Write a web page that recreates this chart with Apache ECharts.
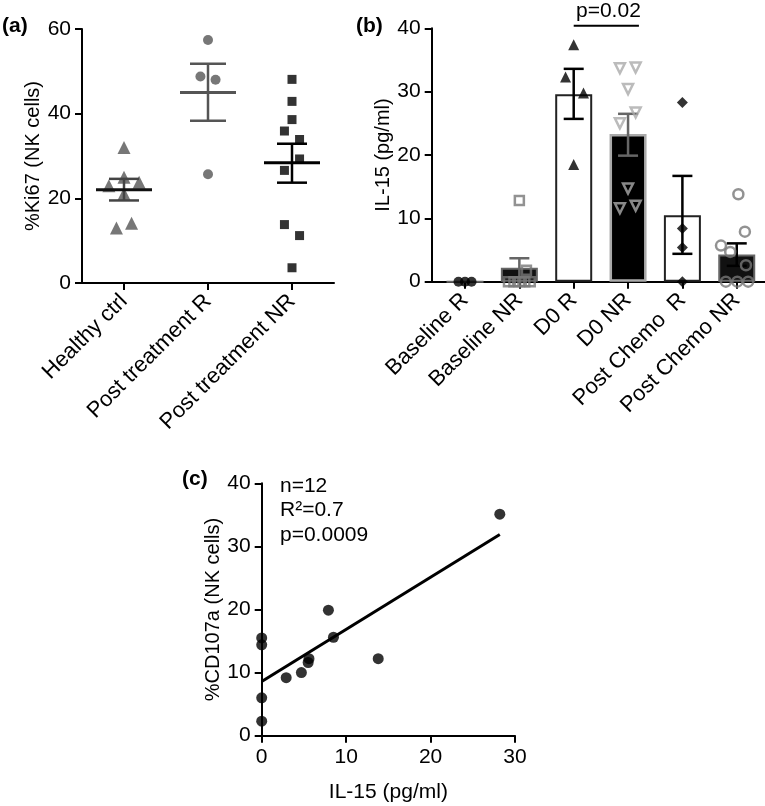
<!DOCTYPE html>
<html>
<head>
<meta charset="utf-8">
<script src="https://cdn.jsdelivr.net/npm/echarts@6/dist/echarts.min.js"></script>
<style>
  html, body { margin: 0; padding: 0; background: #fff; }
  #chart { width: 765px; height: 806px; }
</style>
</head>
<body>
<div id="chart"></div>
<script>
// ---- panel (a): Ki67 ----
const aGroups = ["Healthy ctrl", "Post treatment R", "Post treatment NR"];
const aHealthy = [32.0, 23.0, 25.0, 23.8, 21.1, 13.0, 14.1];
const aHealthyJitter = [0, -0.18, 0, 0.18, 0, -0.09, 0.09];
const aPostR = [57.4, 48.8, 48.0, 25.7];
const aPostRJitter = [0, -0.09, 0.09, 0];
const aPostNR = [48.1, 42.9, 38.6, 35.9, 33.9, 29.3, 26.6, 13.8, 11.2, 3.6];
const aPostNRJitter = [0, 0, 0, -0.09, 0.09, 0.09, -0.09, -0.09, 0.09, 0];
const aMean = [22.0, 45.0, 28.4];
const aLow = [19.5, 38.3, 23.7];
const aHigh = [24.6, 51.8, 32.9];

// ---- panel (b): IL-15 ----
const bGroups = ["Baseline R", "Baseline NR", "D0 R", "D0 NR", "Post Chemo  R", "Post Chemo NR"];
const bMean = [0, 2.2, 29.6, 23.3, 10.5, 4.3];
const bLow = [0, 0.7, 25.7, 19.9, 4.4, 2.5];
const bHigh = [0, 3.7, 33.6, 26.5, 16.7, 6.05];
const bBaseR = [0, 0, 0];
const bBaseRJitter = [-0.12, 0, 0.12];
const bBaseNR = [12.8, 1.8, 0, 0, 0, 0, 0];
const bBaseNRJitter = [0, 0.13, -0.2, -0.1, 0, 0.1, 0.2];
const bD0R = [37.4, 32.3, 29.8, 18.5];
const bD0RJitter = [0, -0.15, 0.18, 0];
const bD0NR = [33.7, 33.8, 30.4, 26.7, 25.0, 14.7, 11.6, 12.0];
const bD0NRJitter = [-0.15, 0.14, 0, 0.14, -0.15, 0, -0.15, 0.14];
const bChemoR = [28.3, 8.4, 5.4, 0];
const bChemoRJitter = [0, 0, 0, 0];
const bChemoNR = [13.8, 7.9, 5.7, 4.7, 2.6, 0, 0, 0];
const bChemoNRJitter = [0.03, 0.15, -0.29, -0.12, 0.17, -0.2, 0.01, 0.21];
const bBracketX = [2, 3.2];
const bBracketY = 40.4;

// ---- panel (c): IL-15 vs CD107a ----
const cX = [0, 0, 0, 0, 2.9, 4.7, 5.6, 5.5, 7.9, 8.5, 13.8, 28.2];
const cY = [15.5, 14.4, 6.0, 2.3, 9.2, 10.0, 12.2, 11.6, 19.9, 15.6, 12.2, 35.1];
const fitX = [0, 28.2];
const fitY = [8.6, 31.9];

const FONT = "Liberation Sans, Arial, sans-serif";

function pts(group, values, jitter) {
  return values.map((v, i) => [group + jitter[i], v]);
}

function catAxis(gridIndex, names, min, max) {
  const ticks = names.map((_, i) => i);
  return {
    gridIndex,
    type: "value",
    min,
    max,
    axisLine: { show: true, onZero: false, lineStyle: { color: "#000", width: 2 } },
    axisTick: { show: true, customValues: ticks, length: 7, lineStyle: { color: "#000", width: 2 } },
    axisLabel: {
      customValues: ticks,
      formatter: (v) => names[Math.round(v)],
      rotate: 45,
      fontSize: 22,
      fontFamily: FONT,
      color: "#000",
      margin: 15,
    },
    splitLine: { show: false },
  };
}

function valAxis(gridIndex, min, max, interval, name, nameGap) {
  return {
    gridIndex,
    type: "value",
    min,
    max,
    interval,
    name,
    nameLocation: "middle",
    nameGap,
    nameTextStyle: { fontSize: 20, fontFamily: FONT, color: "#000" },
    axisLine: { show: true, onZero: false, lineStyle: { color: "#000", width: 2 } },
    axisTick: { show: true, length: 7, lineStyle: { color: "#000", width: 2 } },
    axisLabel: { fontSize: 21, fontFamily: FONT, color: "#000", margin: 11 },
    splitLine: { show: false },
  };
}

// mean line + SEM whiskers for panel (a)
const aMeanColor = ["#111", "#555", "#000"];
const aErrColor = ["#444", "#555", "#000"];
function renderMeanSem(params, api) {
  const i = params.dataIndex;
  const x = api.value(0);
  const m = api.coord([x, api.value(1)]);
  const lo = api.coord([x, api.value(2)]);
  const hi = api.coord([x, api.value(3)]);
  const capHalf = i === 1 ? 18 : 15;
  const err = { stroke: aErrColor[i], lineWidth: 2.5 };
  return {
    type: "group",
    children: [
      { type: "line", shape: { x1: m[0], y1: lo[1], x2: m[0], y2: hi[1] }, style: err },
      { type: "line", shape: { x1: m[0] - capHalf, y1: lo[1], x2: m[0] + capHalf, y2: lo[1] }, style: err },
      { type: "line", shape: { x1: m[0] - capHalf, y1: hi[1], x2: m[0] + capHalf, y2: hi[1] }, style: err },
      { type: "line", shape: { x1: m[0] - 28, y1: m[1], x2: m[0] + 28, y2: m[1] }, style: { stroke: aMeanColor[i], lineWidth: 3 } },
    ],
  };
}

// SEM whiskers for panel (b)
const bErrColor = ["#000", "#666", "#000", "#666", "#000", "#000"];
function renderErr(params, api) {
  const i = params.dataIndex;
  const x = api.value(0);
  if (api.value(2) === api.value(1)) return null;
  const lo = api.coord([x, api.value(1)]);
  const hi = api.coord([x, api.value(2)]);
  const st = { stroke: bErrColor[i], lineWidth: 2.5 };
  return {
    type: "group",
    children: [
      { type: "line", shape: { x1: lo[0], y1: lo[1], x2: lo[0], y2: hi[1] }, style: st },
      { type: "line", shape: { x1: lo[0] - 10, y1: lo[1], x2: lo[0] + 10, y2: lo[1] }, style: st },
      { type: "line", shape: { x1: lo[0] - 10, y1: hi[1], x2: lo[0] + 10, y2: hi[1] }, style: st },
    ],
  };
}

const bBarStyle = [
  { color: "#111", borderColor: "#666", borderWidth: 2 },
  { color: "#111", borderColor: "#666", borderWidth: 2 },
  { color: "#fff", borderColor: "#222", borderWidth: 2 },
  { color: "#000", borderColor: "#aaa", borderWidth: 2.5 },
  { color: "#fff", borderColor: "#222", borderWidth: 2 },
  { color: "#111", borderColor: "#666", borderWidth: 2 },
];

const chart = echarts.init(document.getElementById("chart"));

chart.setOption({
  animation: false,
  backgroundColor: "#fff",
  textStyle: { fontFamily: FONT },
  grid: [
    { left: 82, top: 29, width: 252, height: 254, outerBoundsMode: "none", containLabel: false },
    { left: 431.7, top: 28.3, width: 333.3, height: 253.4, outerBoundsMode: "none", containLabel: false },
    { left: 261.7, top: 483.3, width: 253.3, height: 252.4, outerBoundsMode: "none", containLabel: false },
  ],
  xAxis: [
    catAxis(0, aGroups, -0.5, 2.5),
    catAxis(1, bGroups, -0.613, 5.52),
    Object.assign(valAxis(2, 0, 30, 10, "IL-15 (pg/ml)", 46), {
      nameTextStyle: { fontSize: 21, fontFamily: FONT, color: "#000" },
    }),
  ],
  yAxis: [
    valAxis(0, 0, 60, 20, "%Ki67 (NK cells)", 38),
    valAxis(1, 0, 40, 10, "IL-15 (pg/ml)", 31),
    valAxis(2, 0, 40, 10, "%CD107a (NK cells)", 38),
  ],
  graphic: [
    { type: "text", left: 2, top: 16, style: { text: "(a)", font: "bold 21px " + FONT, fill: "#000" } },
    { type: "text", left: 356, top: 16, style: { text: "(b)", font: "bold 21px " + FONT, fill: "#000" } },
    { type: "text", left: 182, top: 469, style: { text: "(c)", font: "bold 21px " + FONT, fill: "#000" } },
    { type: "text", left: 576, top: 1, style: { text: "p=0.02", font: "21px " + FONT, fill: "#000" } },
    { type: "text", left: 280, top: 476, style: { text: "n=12", font: "21px " + FONT, fill: "#000" } },
    { type: "text", left: 280, top: 500, style: { text: "R²=0.7", font: "21px " + FONT, fill: "#000" } },
    { type: "text", left: 280, top: 525, style: { text: "p=0.0009", font: "21px " + FONT, fill: "#000" } },
  ],
  series: [
    // ---- (a) ----
    {
      type: "scatter", xAxisIndex: 0, yAxisIndex: 0,
      symbol: "triangle", symbolSize: 13,
      itemStyle: { color: "#555" },
      data: pts(0, aHealthy, aHealthyJitter),
    },
    {
      type: "scatter", xAxisIndex: 0, yAxisIndex: 0,
      symbol: "circle", symbolSize: 10,
      itemStyle: { color: "#555" },
      data: pts(1, aPostR, aPostRJitter),
    },
    {
      type: "scatter", xAxisIndex: 0, yAxisIndex: 0,
      symbol: "rect", symbolSize: 9,
      itemStyle: { color: "#000" },
      data: pts(2, aPostNR, aPostNRJitter),
    },
    {
      type: "custom", xAxisIndex: 0, yAxisIndex: 0,
      renderItem: renderMeanSem,
      data: aMean.map((m, i) => [i, m, aLow[i], aHigh[i]]),
      z: 5,
    },
    // ---- (b) ----
    {
      type: "bar", xAxisIndex: 1, yAxisIndex: 1,
      barWidth: 37,
      data: bMean.map((m, i) => ({ value: [i, m], itemStyle: bBarStyle[i] })),
      z: 1,
    },
    {
      type: "custom", xAxisIndex: 1, yAxisIndex: 1,
      renderItem: renderErr,
      data: bMean.map((m, i) => [i, bLow[i], bHigh[i]]),
      z: 3,
    },
    {
      type: "scatter", xAxisIndex: 1, yAxisIndex: 1,
      symbol: "circle", symbolSize: 10,
      itemStyle: { color: "#000" },
      data: pts(0, bBaseR, bBaseRJitter), z: 4,
    },
    {
      type: "scatter", xAxisIndex: 1, yAxisIndex: 1,
      symbol: "rect", symbolSize: 9,
      itemStyle: { color: "rgba(0,0,0,0)", borderColor: "#777", borderWidth: 2.5 },
      data: pts(1, bBaseNR, bBaseNRJitter), z: 4,
    },
    {
      type: "scatter", xAxisIndex: 1, yAxisIndex: 1,
      symbol: "triangle", symbolSize: 11,
      itemStyle: { color: "#000" },
      data: pts(2, bD0R, bD0RJitter), z: 4,
    },
    {
      type: "scatter", xAxisIndex: 1, yAxisIndex: 1,
      symbol: "triangle", symbolRotate: 180, symbolSize: 10,
      itemStyle: { color: "rgba(0,0,0,0)", borderColor: "#aaa", borderWidth: 2.5 },
      data: pts(3, bD0NR, bD0NRJitter), z: 4,
    },
    {
      type: "scatter", xAxisIndex: 1, yAxisIndex: 1,
      symbol: "diamond", symbolSize: 11,
      itemStyle: { color: "#000" },
      data: pts(4, bChemoR, bChemoRJitter), z: 4,
    },
    {
      type: "scatter", xAxisIndex: 1, yAxisIndex: 1,
      symbol: "circle", symbolSize: 10,
      itemStyle: { color: "rgba(0,0,0,0)", borderColor: "#777", borderWidth: 2.5 },
      data: pts(5, bChemoNR, bChemoNRJitter), z: 4,
    },
    {
      type: "line", xAxisIndex: 1, yAxisIndex: 1,
      clip: false, symbol: "none",
      lineStyle: { color: "#000", width: 2 },
      data: bBracketX.map((x) => [x, bBracketY]),
    },
    // ---- (c) ----
    {
      type: "scatter", xAxisIndex: 2, yAxisIndex: 2,
      symbol: "circle", symbolSize: 11,
      itemStyle: { color: "#000" },
      data: cX.map((x, i) => [x, cY[i]]),
    },
    {
      type: "line", xAxisIndex: 2, yAxisIndex: 2,
      symbol: "none",
      lineStyle: { color: "#000", width: 3 },
      data: fitX.map((x, i) => [x, fitY[i]]),
    },
  ],
});
</script>
</body>
</html>
